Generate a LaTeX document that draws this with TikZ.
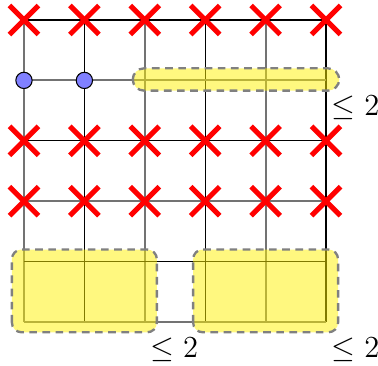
\documentclass[tikz,border=0pt]{standalone}
\tikzset{
  gline/.style={draw=black!55, line width=0.85pt},
  bline/.style={draw=black, line width=0.5pt},
  xmark/.style={draw=red, line width=2.4pt},
  dot/.style={circle, draw=black, fill=blue!50, line width=0.5pt, minimum size=0.27cm, inner sep=0pt},
  hbox/.style={fill=yellow, fill opacity=0.5, draw=gray, draw opacity=1, line width=1.1pt, dash pattern=on 3.6pt off 2.6pt},
  lbl/.style={inner sep=0pt, font=\fontsize{15.5}{18}\selectfont}
}
\begin{document}
\begin{tikzpicture}
\useasboundingbox (-0.397,-0.728) rectangle (5.861,5.331);
% grid lines
\foreach \i in {0,2,4} {
  \draw[gline] (\i,0) -- (\i,5);
}
\foreach \i in {1,3,5} {
  \draw[bline] (\i,0) -- (\i,5);
}
\foreach \j in {0,2,4} {
  \draw[gline] (0,\j) -- (5,\j);
}
\foreach \j in {1,3,5} {
  \draw[bline] (0,\j) -- (5,\j);
}
% highlighted regions
\draw[hbox, rounded corners=0.19cm] (1.8,3.83) rectangle (5.22,4.2);
\draw[hbox, rounded corners=0.16cm] (-0.2,-0.17) rectangle (2.2,1.2);
\draw[hbox, rounded corners=0.16cm] (2.8,-0.17) rectangle (5.2,1.2);
% crosses
\foreach \j in {5,3,2} {
  \foreach \i in {0,...,5} {
    \draw[xmark] (\i-0.24,\j-0.24) -- (\i+0.24,\j+0.24);
    \draw[xmark] (\i-0.24,\j+0.24) -- (\i+0.24,\j-0.24);
  }
}
% dots
\node[dot] (d0) at (0,4) {};
\node[dot] (d1) at (1,4) {};
% labels
\node[lbl] (l1) at (5.49,3.54) {$\leq 2$};
\node[lbl] (l2) at (2.49,-0.46) {$\leq 2$};
\node[lbl] (l3) at (5.49,-0.46) {$\leq 2$};
\end{tikzpicture}
\end{document}
